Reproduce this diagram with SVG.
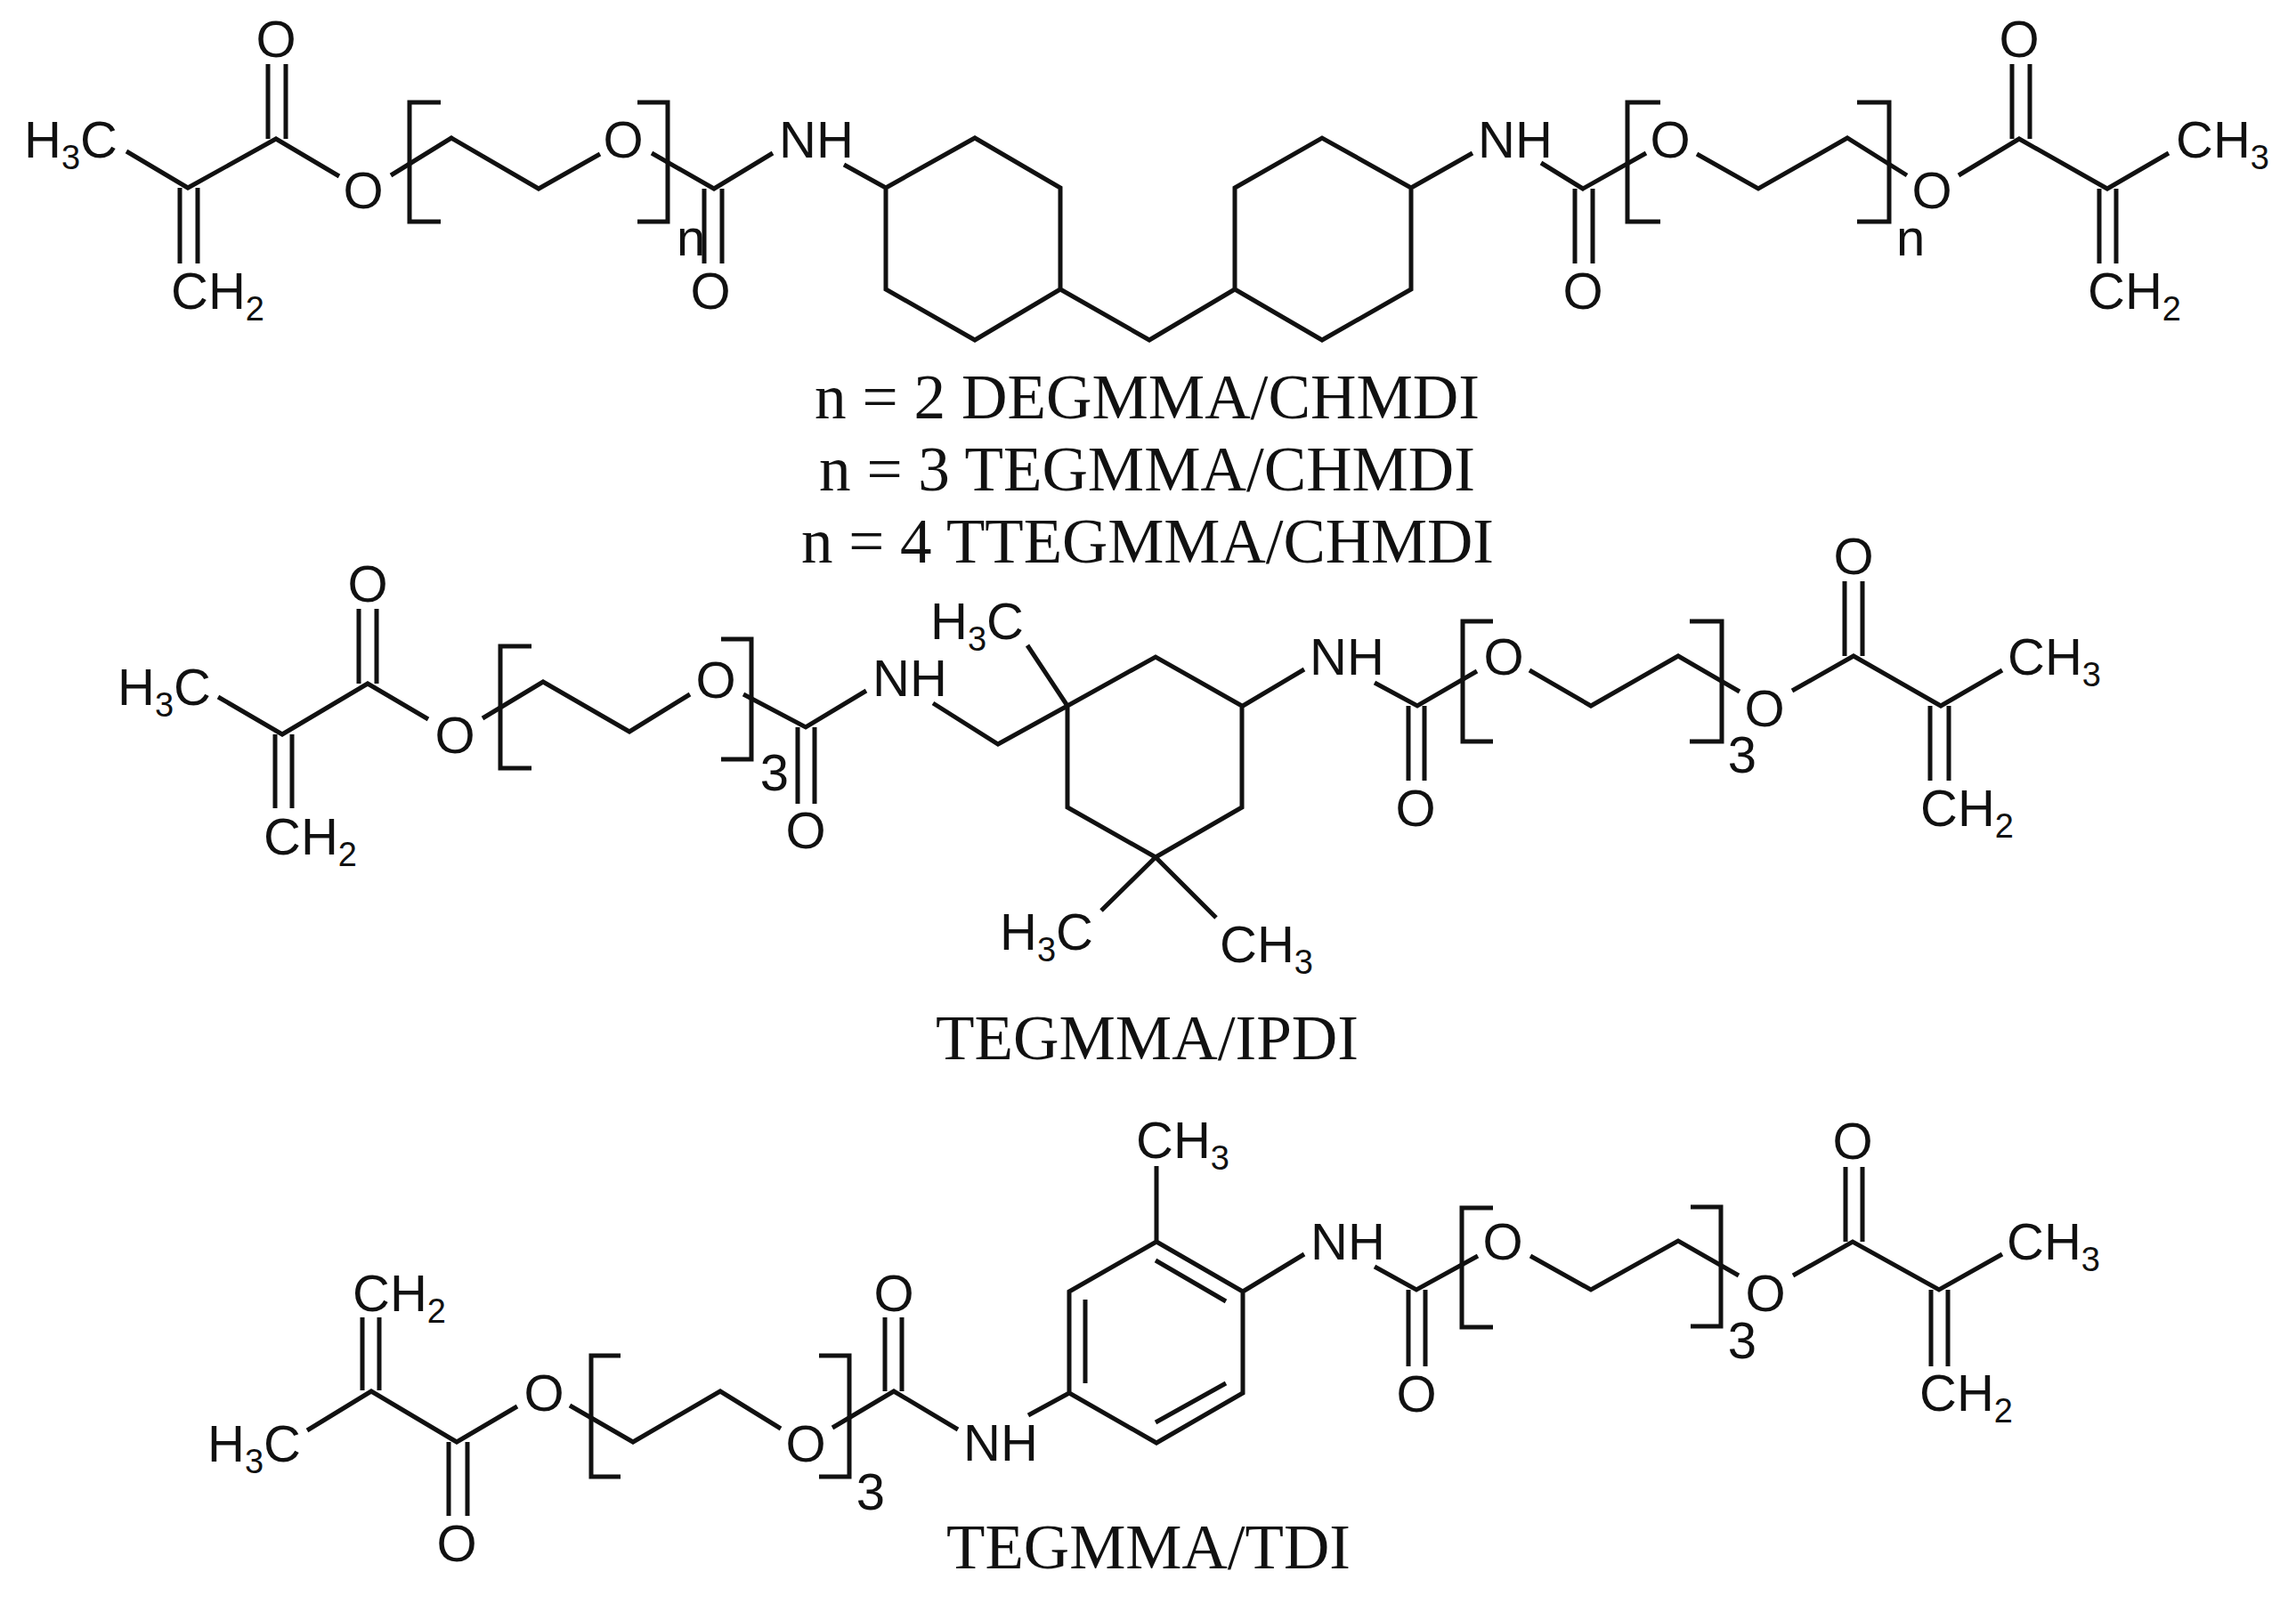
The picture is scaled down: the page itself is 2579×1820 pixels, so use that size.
<svg xmlns="http://www.w3.org/2000/svg" width="2579" height="1820" viewBox="0 0 2579 1820">
<style>
.b{fill:none;stroke:#111;stroke-width:5;stroke-linejoin:miter;stroke-linecap:butt}
.l{font-family:"Liberation Sans",Arial,sans-serif;font-size:58px;fill:#111}
.m{text-anchor:middle}
.s{font-size:38px}
.c{font-family:"Liberation Serif","Times New Roman",serif;font-size:71px;fill:#111}
</style>
<rect width="2579" height="1820" fill="#fff"/>
<g id="connectors">
<g id="bonds-chmdi"><path class="b" d="M142 170L211 211L310 156L381 198M202 211V296M222 211V296M301 156V72M321 156V72M439 197L507 155L605 212L674 173M732 172L802 212L868 172M791 212V296M811 212V296M948 185L995 211M995 211L1095 155L1191 211V325L1095 382L995 325ZM1191 325L1291 382L1387 325M1387 325V211L1485 155L1585 211V325L1485 382ZM1585 211L1654 172M1731 183L1778 212L1849 172M1769 212V296M1789 212V296M1906 173L1975 212L2075 155L2142 197M2200 197L2268 156L2367 212L2436 172M2260 156V72M2280 156V72M2358 212V296M2377 212V296"/>
<path class="b" d="M495 115H460V249H495M716 115H750V249H716M1865 115H1828V249H1865M2086 115H2122V249H2086"/></g>
<g id="bonds-ipdi"><path class="b" d="M245 783L317 825L413 768L481 808M309 825V908M328 825V908M403 768V684M423 768V684M542 807L610 766L707 822L775 780M835 780L905 817L973 776M896 817V903M915 817V903M1048 790L1121 836L1199 793M1154 725L1199 793M1199 793L1298 738L1395 793V907L1298 963L1199 907ZM1298 963L1237 1023M1298 963L1366 1031M1396 793L1465 752M1544 767L1592 793L1659 754M1582 793V877M1600 793V877M1718 753L1787 793L1885 737L1954 777M2013 776L2082 737L2180 793L2249 753M2072 737V653M2092 737V653M2168 793V877M2189 793V877"/>
<path class="b" d="M597 726H562V863H597M810 718H844V853H810M1677 698H1643V833H1677M1898 698H1934V833H1898"/></g>
<g id="bonds-tdi"><path class="b" d="M407 1480V1562M426 1480V1562M345 1607L417 1563L513 1620L581 1580M504 1620V1703M525 1620V1703M640 1579L711 1620L809 1563L877 1605M935 1604L1004 1563L1076 1606M994 1563V1480M1013 1563V1480M1155 1590L1201 1565M1201 1565V1451L1299 1395L1396 1451V1565L1299 1621ZM1298 1416L1377 1462M1219 1460V1554M1298 1598L1377 1554M1299 1395V1310M1396 1451L1465 1409M1544 1423L1591 1449L1660 1411M1582 1449V1535M1601 1449V1535M1719 1411L1787 1449L1885 1394L1953 1433M2014 1433L2081 1395L2178 1449L2249 1409M2073 1395V1311M2092 1395V1311M2169 1449V1535M2188 1449V1535"/>
<path class="b" d="M697 1523H664V1659H697M920 1523H954V1659H920M1677 1357H1642V1491H1677M1899 1356H1933V1490H1899"/></g>
</g>
<g id="mol-chmdi-labels">
<text class="l" x="27" y="177">H<tspan class="s" dy="13">3</tspan><tspan dy="-13">C</tspan></text>
<text class="l m" x="310" y="64">O</text>
<text class="l" x="192" y="347">CH<tspan class="s" dy="13">2</tspan></text>
<text class="l m" x="408" y="234">O</text>
<text class="l m" x="700" y="177">O</text>
<text class="l" x="760" y="287">n</text>
<text class="l m" x="798" y="347">O</text>
<text class="l" x="875" y="177">NH</text>
<text class="l" x="1660" y="177">NH</text>
<text class="l m" x="1778" y="347">O</text>
<text class="l m" x="1876" y="177">O</text>
<text class="l" x="2130" y="287">n</text>
<text class="l m" x="2170" y="234">O</text>
<text class="l m" x="2268" y="64">O</text>
<text class="l" x="2444" y="177">CH<tspan class="s" dy="13">3</tspan></text>
<text class="l" x="2345" y="347">CH<tspan class="s" dy="13">2</tspan></text>
</g>
<g id="captions-chmdi">
<text class="c" x="915" y="470" textLength="747" lengthAdjust="spacingAndGlyphs">n = 2 DEGMMA/CHMDI</text>
<text class="c" x="920" y="551" textLength="737" lengthAdjust="spacingAndGlyphs">n = 3 TEGMMA/CHMDI</text>
<text class="c" x="900" y="632" textLength="778" lengthAdjust="spacingAndGlyphs">n = 4 TTEGMMA/CHMDI</text>
</g>
<g id="mol-ipdi-labels">
<text class="l" x="132" y="792">H<tspan class="s" dy="13">3</tspan><tspan dy="-13">C</tspan></text>
<text class="l m" x="413" y="676">O</text>
<text class="l" x="296" y="960">CH<tspan class="s" dy="13">2</tspan></text>
<text class="l m" x="511" y="846">O</text>
<text class="l m" x="804" y="784">O</text>
<text class="l m" x="870" y="888">3</text>
<text class="l m" x="905" y="953">O</text>
<text class="l" x="980" y="782">NH</text>
<text class="l" x="1045" y="718">H<tspan class="s" dy="13">3</tspan><tspan dy="-13">C</tspan></text>
<text class="l" x="1123" y="1067">H<tspan class="s" dy="13">3</tspan><tspan dy="-13">C</tspan></text>
<text class="l" x="1370" y="1081">CH<tspan class="s" dy="13">3</tspan></text>
<text class="l" x="1471" y="758">NH</text>
<text class="l m" x="1590" y="928">O</text>
<text class="l m" x="1689" y="758">O</text>
<text class="l m" x="1957" y="868">3</text>
<text class="l m" x="1982" y="816">O</text>
<text class="l m" x="2082" y="645">O</text>
<text class="l" x="2255" y="758">CH<tspan class="s" dy="13">3</tspan></text>
<text class="l" x="2157" y="928">CH<tspan class="s" dy="13">2</tspan></text>
<text class="c" x="1051" y="1190" textLength="475" lengthAdjust="spacingAndGlyphs">TEGMMA/IPDI</text>
</g>
<g id="mol-tdi-labels">
<text class="l" x="396" y="1473">CH<tspan class="s" dy="13">2</tspan></text>
<text class="l" x="233" y="1642">H<tspan class="s" dy="13">3</tspan><tspan dy="-13">C</tspan></text>
<text class="l m" x="513" y="1754">O</text>
<text class="l m" x="611" y="1585">O</text>
<text class="l m" x="905" y="1642">O</text>
<text class="l m" x="978" y="1696">3</text>
<text class="l m" x="1004" y="1473">O</text>
<text class="l" x="1082" y="1641">NH</text>
<text class="l" x="1276" y="1301">CH<tspan class="s" dy="13">3</tspan></text>
<text class="l" x="1472" y="1415">NH</text>
<text class="l m" x="1591" y="1586">O</text>
<text class="l m" x="1688" y="1415">O</text>
<text class="l m" x="1957" y="1526">3</text>
<text class="l m" x="1983" y="1473">O</text>
<text class="l m" x="2081" y="1302">O</text>
<text class="l" x="2254" y="1415">CH<tspan class="s" dy="13">3</tspan></text>
<text class="l" x="2156" y="1585">CH<tspan class="s" dy="13">2</tspan></text>
<text class="c" x="1063" y="1762" textLength="454" lengthAdjust="spacingAndGlyphs">TEGMMA/TDI</text>
</g>
</svg>
